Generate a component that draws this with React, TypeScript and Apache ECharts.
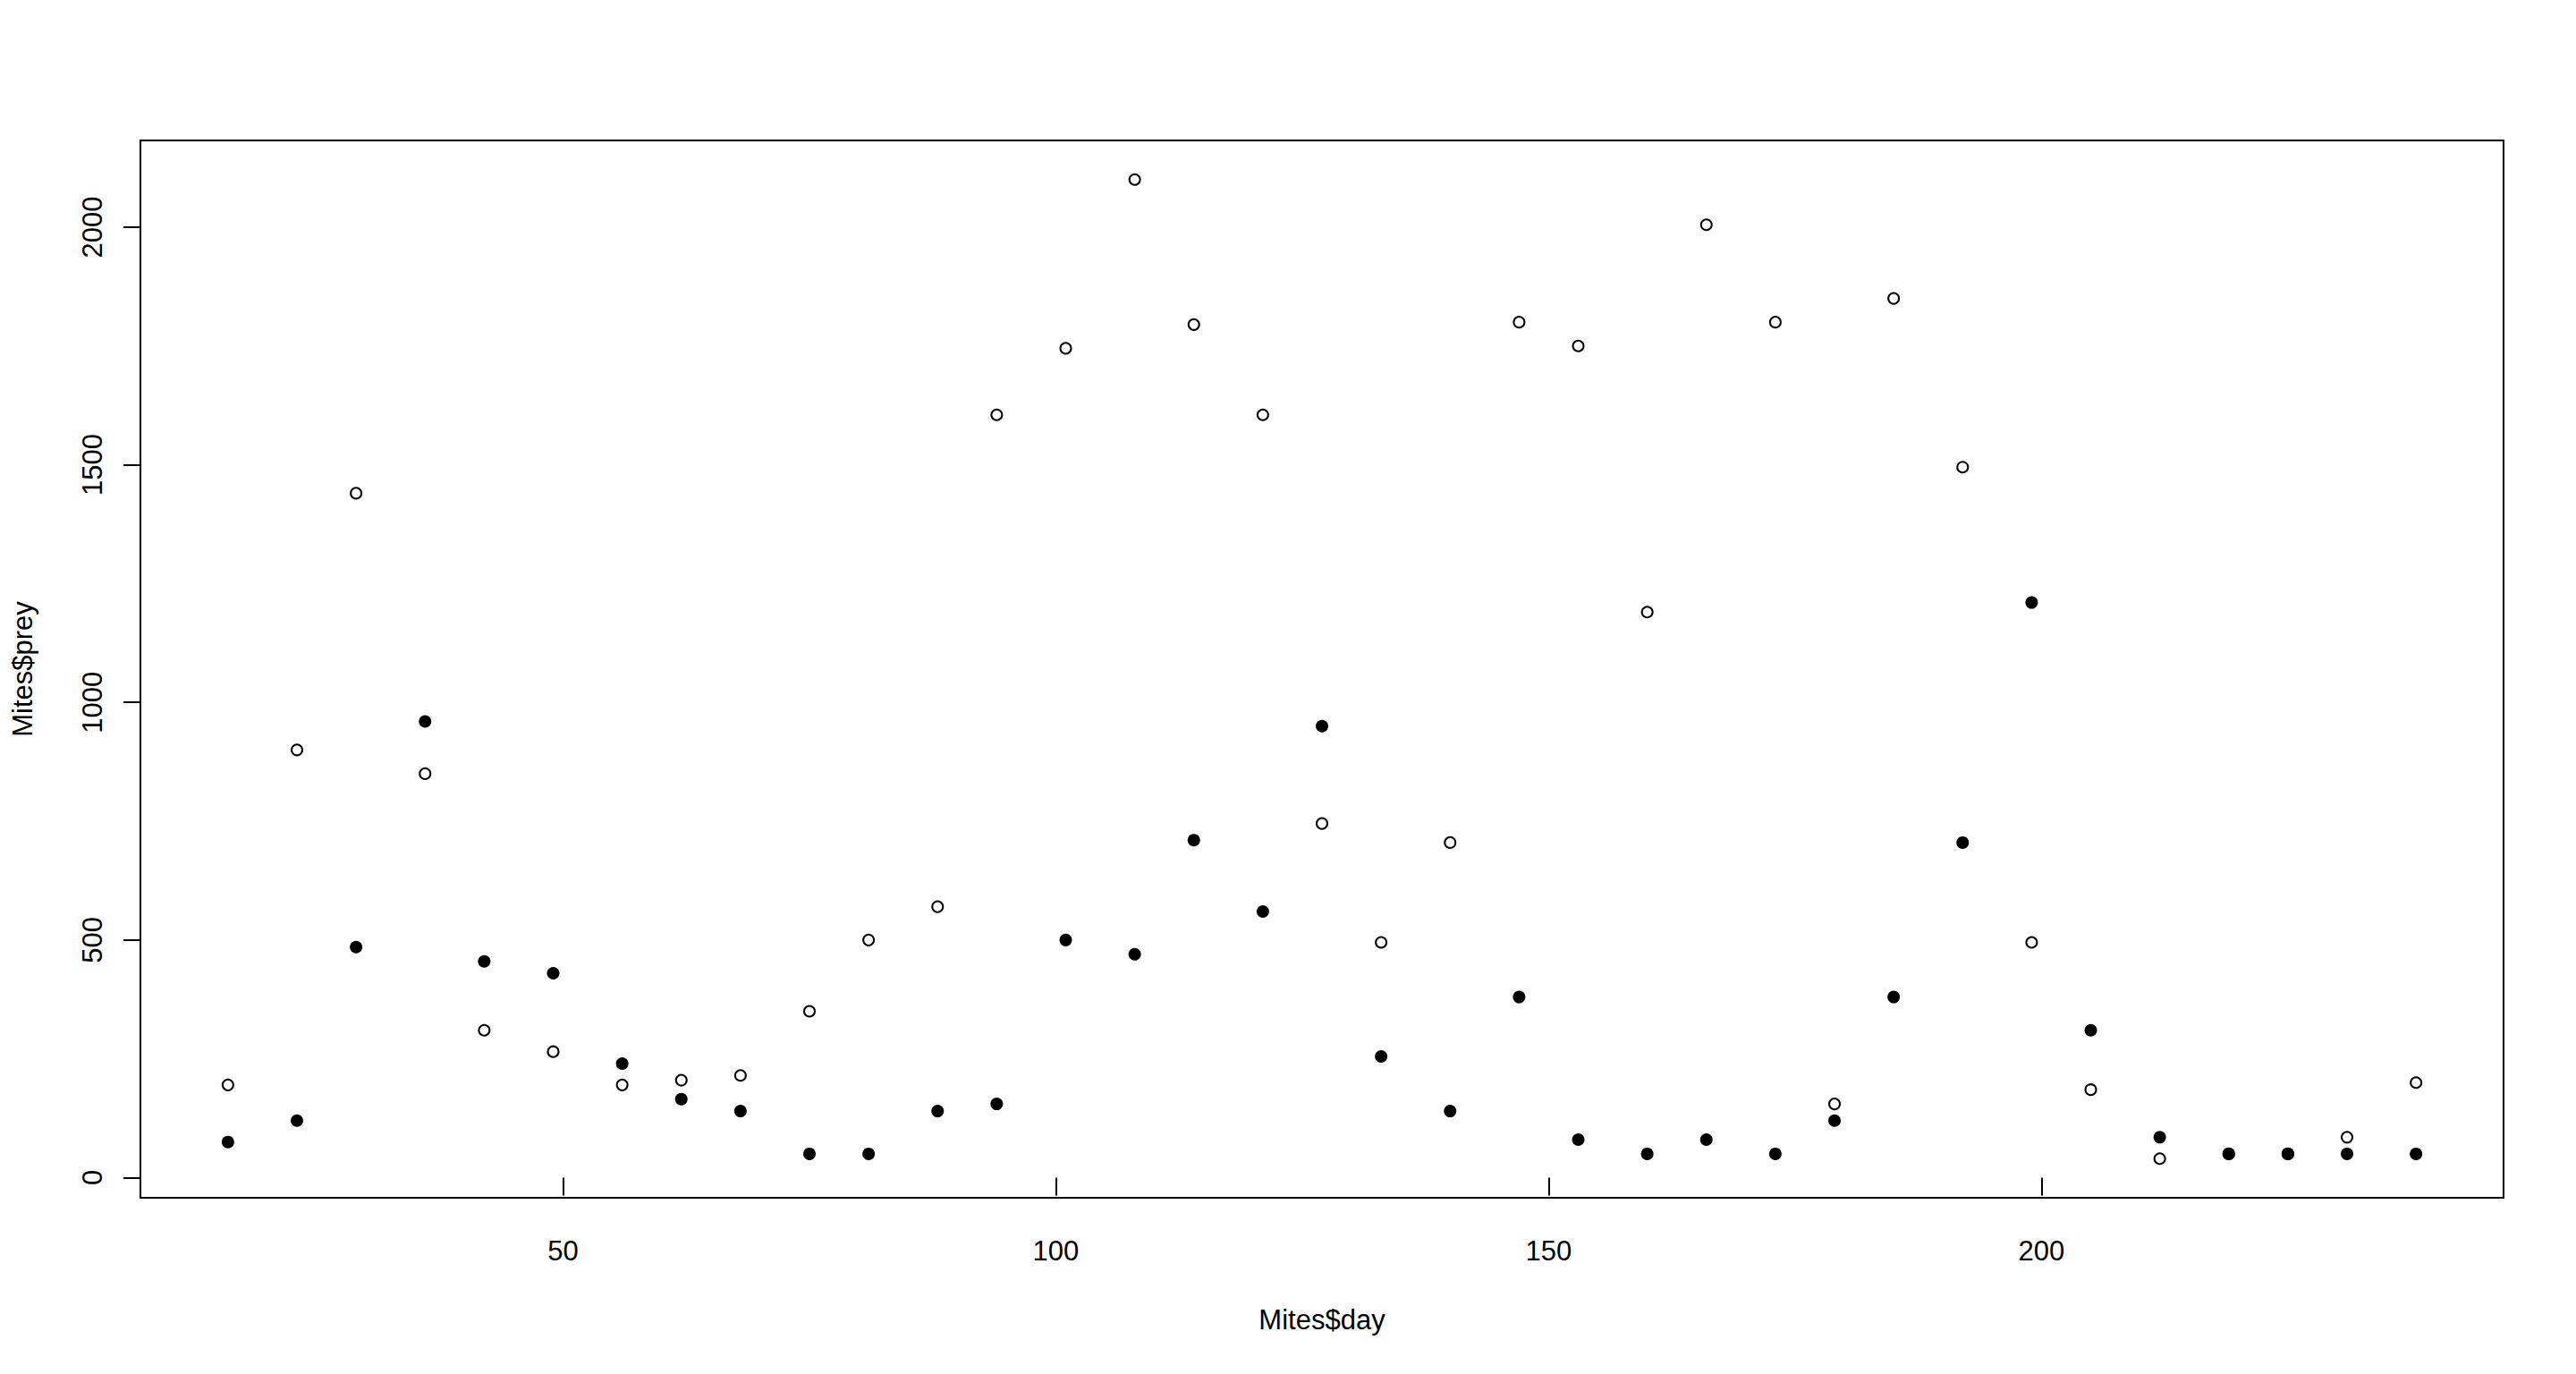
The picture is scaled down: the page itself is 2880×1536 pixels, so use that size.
import React, { useEffect, useRef } from "react";
import * as echarts from "echarts";

const days = [16, 23, 29, 36, 42, 49, 56, 62, 68, 75, 81, 88, 94, 101, 108, 114, 121, 127, 133, 140, 147, 153, 160, 166, 173, 179, 185, 192, 199, 205, 212, 219, 225, 231, 238];
const prey = [195, 900, 1440, 850, 310, 265, 195, 205, 215, 350, 500, 570, 1605, 1745, 2100, 1795, 1605, 745, 495, 705, 1800, 1750, 1190, 2005, 1800, 155, 1850, 1495, 495, 185, 40, 50, 50, 85, 200];
const predator = [75, 120, 485, 960, 455, 430, 240, 165, 140, 50, 50, 140, 155, 500, 470, 710, 560, 950, 255, 140, 380, 80, 50, 80, 50, 120, 380, 705, 1210, 310, 85, 50, 50, 50, 50];
const xTicks = [50, 100, 150, 200];
const yTicks = [0, 500, 1000, 1500, 2000];

const FONT = "Liberation Sans, Arial, sans-serif";

function rRange(vals: number[]) {
  const lo = Math.min(...vals);
  const hi = Math.max(...vals);
  const d = (hi - lo) * 0.04;
  return [lo - d, hi + d];
}

export default function App() {
  const ref = useRef<HTMLDivElement>(null);
  useEffect(() => {
    if (!ref.current) return;
    const chart = echarts.init(ref.current, null, { renderer: "svg" });
    const [xmin, xmax] = rRange(days);
    const [ymin, ymax] = rRange([...prey, ...predator]);
    const labelStyle = { fontSize: 31, fontFamily: FONT, color: "#000" };
    const plain = (v: number) => String(Math.round(v));
    chart.setOption({
      animation: false,
      backgroundColor: "#fff",
      grid: {
        left: 157,
        top: 157,
        right: 81,
        bottom: 197,
        show: true,
        borderColor: "#000",
        borderWidth: 2,
        backgroundColor: "transparent",
      },
      xAxis: {
        type: "value",
        min: xmin,
        max: xmax,
        axisLine: { show: false },
        splitLine: { show: false },
        axisTick: { show: true, customValues: xTicks, length: 20, lineStyle: { color: "#000", width: 2 } },
        axisLabel: { customValues: xTicks, margin: 44, formatter: plain, ...labelStyle },
        name: "Mites$day",
        nameLocation: "middle",
        nameGap: 121,
        nameTextStyle: labelStyle,
      },
      yAxis: {
        type: "value",
        min: ymin,
        max: ymax,
        axisLine: { show: false },
        splitLine: { show: false },
        axisTick: { show: true, customValues: yTicks, length: 19, lineStyle: { color: "#000", width: 2 } },
        axisLabel: { customValues: yTicks, rotate: 90, margin: 38, formatter: plain, ...labelStyle },
        name: "Mites$prey",
        nameLocation: "middle",
        nameGap: 116,
        nameTextStyle: labelStyle,
      },
      series: [
        {
          type: "scatter",
          name: "prey",
          data: days.map((d, i) => [d, prey[i]]),
          symbol: "circle",
          symbolSize: 12,
          itemStyle: { color: "#fff", borderColor: "#000", borderWidth: 2, opacity: 1 },
          z: 2,
        },
        {
          type: "scatter",
          name: "predator",
          data: days.map((d, i) => [d, predator[i]]),
          symbol: "circle",
          symbolSize: 14,
          itemStyle: { color: "#000", opacity: 1 },
          z: 3,
        },
      ],
    });
    return () => chart.dispose();
  }, []);
  return (
    <div
      ref={ref}
      style={{ position: "absolute", left: 0, top: 0, width: 2880, height: 1536, background: "#fff" }}
    />
  );
}
